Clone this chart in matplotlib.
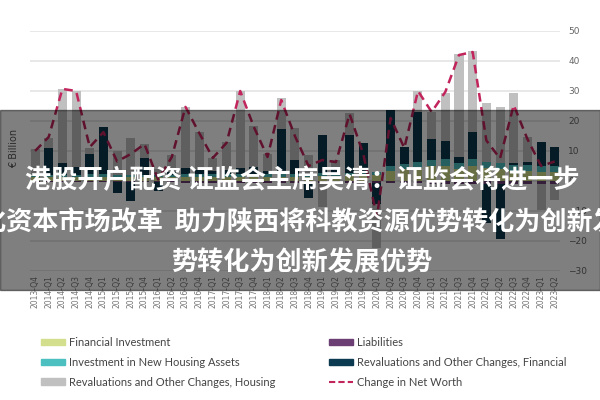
import matplotlib
matplotlib.use("Agg")
import matplotlib.pyplot as plt
from matplotlib.patches import Rectangle, Patch
from matplotlib.lines import Line2D
import numpy as np

quarters = ["2013-Q4",
            "2014-Q1", "2014-Q2", "2014-Q3", "2014-Q4",
            "2015-Q1", "2015-Q2", "2015-Q3", "2015-Q4",
            "2016-Q1", "2016-Q2", "2016-Q3", "2016-Q4",
            "2017-Q1", "2017-Q2", "2017-Q3", "2017-Q4",
            "2018-Q1", "2018-Q2", "2018-Q3", "2018-Q4",
            "2019-Q1", "2019-Q2", "2019-Q3", "2019-Q4",
            "2020-Q1", "2020-Q2", "2020-Q3", "2020-Q4",
            "2021-Q1", "2021-Q2", "2021-Q3", "2021-Q4",
            "2022-Q1", "2022-Q2", "2022-Q3", "2022-Q4",
            "2023-Q1", "2023-Q2"]

# € billion
fin_inv = [1.5, 1.5, 1.5, 1.5, 1.5, 1.5, 1.4, 1.4, 1.4, 1.4, 1.4, 1.4, 1.4,
           1.4, 1.4, 1.4, 1.4, 1.4, 1.4, 1.4, 1.5, 1.8, 1.8, 1.8, 1.8,
           2.0, 3.4, 4.0, 4.5, 5.0, 5.0, 4.0, 5.0, 4.5, 4.0, 3.5, 3.5, 3.0, 3.0]
housing_inv = [0.6, 0.6, 0.6, 0.6, 0.7, 0.7, 0.7, 0.7, 0.7, 0.7, 0.7, 0.8, 0.8,
               0.8, 0.8, 0.8, 0.9, 0.9, 0.9, 0.9, 1.0, 1.0, 1.0, 1.0, 1.1,
               1.0, 1.6, 1.7, 2.0, 2.0, 2.2, 2.0, 2.2, 2.0, 2.0, 2.0, 2.0, 2.0, 2.0]
reval_housing = [8.6, 3.3, 24.7, 25.3, 2.0, 0.0, 7.9, 12.2, 4.6, 1.9, 5.6, 20.5, 12.6,
                 4.5, 9.3, 25.8, 13.5, 5.7, 10.4, 10.7, 6.2, -8.0, 2.7, 7.4, 0.0,
                 -14.7, 0.0, 0.0, 7.0, 9.0, 16.0, 34.3, 27.0, 19.5, 18.7, 23.3, 8.2, -8.7, -5.3]
liabilities = [-0.3, -0.3, -0.3, -0.3, -0.3, -0.3, -0.4, -0.4, -0.4, -0.4, -0.4, -0.5, -0.5,
               -0.5, -0.5, -0.5, -0.6, -0.6, -0.6, -0.6, -0.7, -0.7, -0.7, -0.7, -0.8,
               -0.5, -0.6, -0.8, -0.8, -0.9, -1.0, -1.0, -1.0, -1.0, -1.1, -1.1, -1.0, -1.0, -1.0]
reval_fin = [0.0, 8.9, 3.9, 2.6, 6.8, 15.8, -3.7, -6.3, 5.6, -3.0, 1.0, 2.0, 1.5,
             1.0, 1.5, 2.0, 2.5, 1.0, 15.0, 4.7, -5.0, 12.5, 1.5, 12.5, 9.8,
             -7.0, 18.7, 5.6, 16.5, 7.0, 6.1, 2.0, 9.1, -13.0, -18.3, 0.5, 1.0, 8.0, 6.3]
net_worth = [10.0, 14.7, 30.7, 30.0, 11.3, 16.3, 6.5, 9.0, 12.3, 0.5, 8.0, 24.7, 16.0,
             7.7, 12.7, 30.0, 18.0, 8.0, 27.0, 15.0, 5.0, 7.0, 6.3, 22.3, 9.0,
             -12.0, 21.0, 11.0, 30.0, 23.0, 29.7, 42.0, 43.0, 13.5, 7.5, 25.3, 14.0, 5.0, 6.5]

series = [
    ("Financial Investment", fin_inv, "#d3df8c"),
    ("Investment in New Housing Assets", housing_inv, "#4cbfc0"),
    ("Liabilities", liabilities, "#6b3e74"),
    ("Revaluations and Other Changes, Financial", reval_fin, "#0c3a50"),
    ("Revaluations and Other Changes, Housing", reval_housing, "#c0c0c0"),
]

fig = plt.figure(figsize=(6, 4), dpi=100)
ax = fig.add_axes([0.05, 0.3225, 0.883, 0.60])

x = np.arange(len(quarters))
pos_base = np.zeros(len(x))
neg_base = np.zeros(len(x))
for name, vals, col in series:
    v = np.array(vals)
    p = np.where(v > 0, v, 0)
    n = np.where(v < 0, v, 0)
    ax.bar(x, p, 0.66, bottom=pos_base, color=col, zorder=2)
    ax.bar(x, n, 0.66, bottom=neg_base, color=col, zorder=2)
    pos_base += p
    neg_base += n

ax.plot(x, net_worth, color="#c2245c", lw=1.8, dashes=(3.5, 2.2), zorder=3)

ax.set_xlim(-0.37, len(x) - 0.63)
ax.set_ylim(-30, 50)
ax.set_yticks(range(-30, 51, 10))
ax.yaxis.tick_right()
ax.tick_params(axis="y", length=0, labelsize=6.5, labelcolor="#666666", pad=6)
ax.set_xticks(x)
ax.set_xticklabels(quarters, rotation=90, fontsize=5.5, color="#777777")
ax.tick_params(axis="x", length=0, pad=3)
ax.grid(axis="y", color="#e4e4e4", lw=1.2, zorder=0)
for s in ax.spines.values():
    s.set_visible(False)

fig.text(0.024, 0.63, "€ Billion", rotation=90, ha="center", va="center",
         fontsize=7, color="#555555")

h1 = [Patch(color="#d3df8c", label="Financial Investment"),
      Patch(color="#4cbfc0", label="Investment in New Housing Assets"),
      Patch(color="#c0c0c0", label="Revaluations and Other Changes, Housing")]
h2 = [Patch(color="#6b3e74", label="Liabilities"),
      Patch(color="#0c3a50", label="Revaluations and Other Changes, Financial"),
      Line2D([], [], color="#c2245c", lw=1.5, dashes=(3, 1.5), label="Change in Net Worth")]
for hs, xpos in [(h1, 0.068), (h2, 0.548)]:
    fig.legend(handles=hs, loc="upper left", bbox_to_anchor=(xpos, 0.158),
               frameon=False, handlelength=2.2, handleheight=0.5,
               handletextpad=0.35, labelspacing=0.8, borderaxespad=0,
               borderpad=0, prop={"family": "Lato", "size": 8}, labelcolor="#444444")

# overlay banner
fig.patches.append(Rectangle((0, 0.275), 1, 0.45, transform=fig.transFigure,
                             color="black", alpha=0.5, zorder=10))
cjk = ["Noto Sans CJK SC", "DejaVu Sans"]
fig.text(0.503, 0.547, "港股开户配资 证监会主席吴清：证监会将进一步", ha="center", va="center",
         fontsize=18.8, fontweight="bold", color="white", family=cjk, zorder=11)
fig.text(-0.034, 0.444, "化资本市场改革  助力陕西将科教资源优势转化为创新发展优势", ha="left", va="center",
         fontsize=18.8, fontweight="bold", color="white", family=cjk, zorder=11)
fig.text(0.502, 0.343, "势转化为创新发展优势", ha="center", va="center",
         fontsize=18.8, fontweight="bold", color="white", family=cjk, zorder=11)

fig.savefig("out.png", dpi=100)
